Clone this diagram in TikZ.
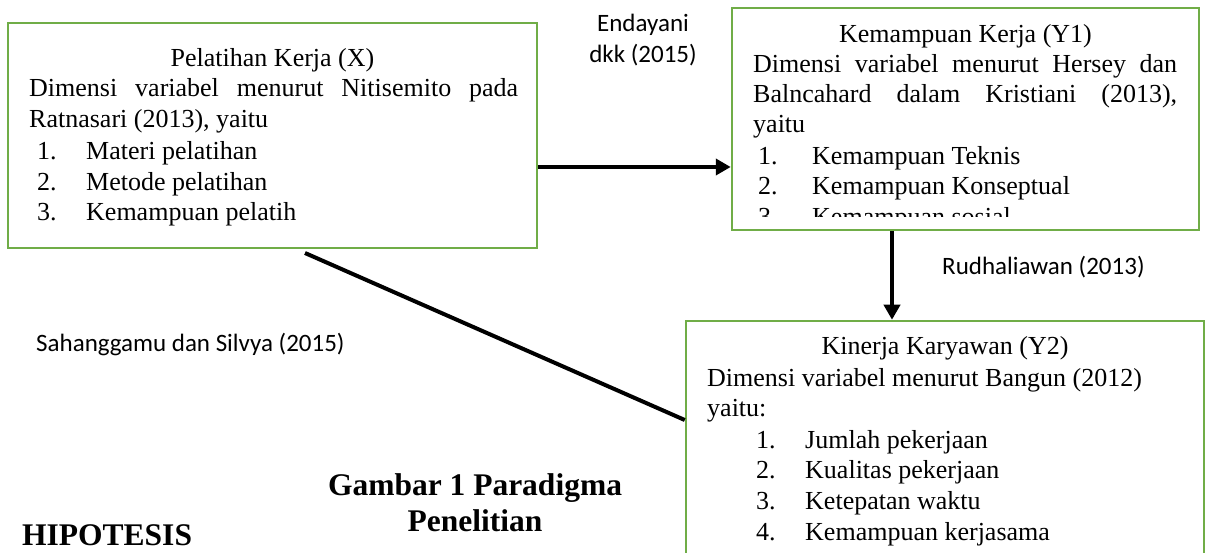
\documentclass[tikz,border=0pt]{standalone}
\usepackage{fontspec}
\setmainfont{Liberation Serif}
\newfontfamily\calibri{Carlito}
\usetikzlibrary{arrows.meta,calc}
\definecolor{boxgreen}{HTML}{70AD47}
\begin{document}
\begin{tikzpicture}[x=1pt,y=-1pt,
  box/.style={draw=boxgreen, line width=2.5pt, rectangle, inner sep=0pt},
  txt/.style={anchor=base west, inner sep=0pt, font=\fontsize{26}{30}\selectfont},
  ctxt/.style={anchor=base, inner sep=0pt, font=\fontsize{26}{30}\selectfont},
  lbl/.style={anchor=base west, inner sep=0pt, font=\calibri\fontsize{25}{30}\selectfont},
  clbl/.style={anchor=base, inner sep=0pt, font=\calibri\fontsize{25}{30}\selectfont},
  captxt/.style={anchor=base, inner sep=0pt, font=\bfseries\fontsize{31.5}{36}\selectfont},
  headtxt/.style={anchor=base west, inner sep=0pt, font=\bfseries\fontsize{31.5}{36}\selectfont},
  conn/.style={line width=4pt},
  arr/.style={line width=4pt, -{Triangle[length=15pt,width=16pt]}}
]
\clip (0,0) rectangle (1208,553);

% boxes
\node[box, minimum width=529pt, minimum height=225pt] (boxX) at (272.5,135.5) {};
\node[box, minimum width=467pt, minimum height=222pt] (boxY1) at (965.5,119) {};
\node[box, minimum width=518pt, minimum height=300pt] (boxY2) at (945,471) {};

% box X text
\node[ctxt] (xt) at (272.5,67) {Pelatihan Kerja (X)};
\node[txt] (x1) at (29,97) {\makebox[489pt][s]{Dimensi variabel menurut Nitisemito pada}};
\node[txt] (x2) at (29,128) {Ratnasari (2013), yaitu};
\node[txt] (x3n) at (37,160) {1.};
\node[txt] (x3) at (86,160) {Materi pelatihan};
\node[txt] (x4n) at (37,191) {2.};
\node[txt] (x4) at (86,191) {Metode pelatihan};
\node[txt] (x5n) at (37,221) {3.};
\node[txt] (x5) at (86,221) {Kemampuan pelatih};

% box Y1 text (clipped)
\begin{scope}
\clip (733,9) rectangle (1198,217);
\node[ctxt] (yt) at (965.5,43) {Kemampuan Kerja (Y1)};
\node[txt] (y1) at (753,73) {\makebox[424pt][s]{Dimensi variabel menurut Hersey dan}};
\node[txt] (y2) at (753,103) {\makebox[424pt][s]{Balncahard dalam Kristiani (2013),}};
\node[txt] (y3) at (753,133) {yaitu};
\node[txt] (y4n) at (758,165) {1.};
\node[txt] (y4) at (812,165) {Kemampuan Teknis};
\node[txt] (y5n) at (758,195) {2.};
\node[txt] (y5) at (812,195) {Kemampuan Konseptual};
\node[txt] (y6n) at (758,226) {3.};
\node[txt] (y6) at (812,226) {Kemampuan sosial};
\end{scope}

% box Y2 text
\node[ctxt] (zt) at (945,355) {Kinerja Karyawan (Y2)};
\node[txt] (z1) at (707,386) {Dimensi variabel menurut Bangun (2012)};
\node[txt] (z2) at (707,417) {yaitu:};
\node[txt] (z3n) at (756,448) {1.};
\node[txt] (z3) at (805,448) {Jumlah pekerjaan};
\node[txt] (z4n) at (756,478) {2.};
\node[txt] (z4) at (805,478) {Kualitas pekerjaan};
\node[txt] (z5n) at (756,509) {3.};
\node[txt] (z5) at (805,509) {Ketepatan waktu};
\node[txt] (z6n) at (756,540) {4.};
\node[txt] (z6) at (805,540) {Kemampuan kerjasama};

% labels
\node[clbl] (l1a) at (643,32) {Endayani};
\node[clbl] (l1b) at (643,63) {dkk (2015)};
\node[lbl] (l2) at (942,275) {Rudhaliawan (2013)};
\node[lbl] (l3) at (36,352) {Sahanggamu dan Silvya (2015)};

% caption and heading
\node[captxt] (c1) at (475,495) {Gambar 1 Paradigma};
\node[captxt] (c2) at (475,531) {Penelitian};
\node[headtxt] (h1) at (22,545) {HIPOTESIS};

% connectors
\coordinate (ha) at (0,167);
\coordinate (va) at (892,0);
\coordinate (ds) at (305,253);
\coordinate (de) at (686,420);
\draw[arr] (boxX.east |- ha) -- (boxY1.west |- ha);
\draw[arr] (boxY1.south -| va) -- (boxY2.north -| va);
\draw[conn] (ds) -- (boxY2.west |- de);
\end{tikzpicture}
\end{document}
